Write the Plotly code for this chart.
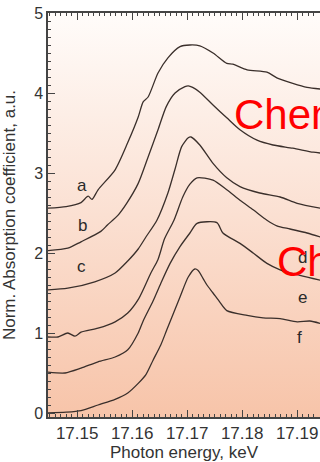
import plotly.graph_objects as go

# ---- data ----
E_A = [17.1447, 17.1480, 17.1507, 17.1520, 17.1527, 17.1538, 17.1569, 17.1592, 17.1611, 17.1620,
       17.1629, 17.1647, 17.1665, 17.1687, 17.1705, 17.1723, 17.1747, 17.1772, 17.1783, 17.1809,
       17.1845, 17.1863, 17.1892, 17.1918, 17.1942]
Y_A = [2.56, 2.58, 2.63, 2.71, 2.67, 2.79, 3.04, 3.38, 3.70, 3.89,
       3.95, 4.25, 4.44, 4.58, 4.60, 4.59, 4.50, 4.37, 4.36, 4.29,
       4.26, 4.19, 4.12, 4.07, 4.05]

E_B = [17.1447, 17.1483, 17.1507, 17.1543, 17.1555, 17.1574, 17.1590, 17.1611, 17.1629, 17.1647,
       17.1662, 17.1678, 17.1696, 17.1702, 17.1710, 17.1723, 17.1747, 17.1772, 17.1796, 17.1827,
       17.1856, 17.1892, 17.1929, 17.1942]
Y_B = [2.03, 2.06, 2.14, 2.27, 2.35, 2.47, 2.62, 2.87, 3.20, 3.54,
       3.83, 4.00, 4.08, 4.09, 4.07, 4.01, 3.85, 3.69, 3.54, 3.41,
       3.35, 3.31, 3.26, 3.25]

E_C = [17.1447, 17.1483, 17.1532, 17.1569, 17.1592, 17.1611, 17.1625, 17.1645, 17.1665, 17.1678,
       17.1690, 17.1702, 17.1707, 17.1723, 17.1747, 17.1772, 17.1796, 17.1832, 17.1869, 17.1900,
       17.1942]
Y_C = [1.54, 1.56, 1.64, 1.75, 1.90, 2.05, 2.20, 2.41, 2.75, 3.05,
       3.33, 3.44, 3.45, 3.35, 3.12, 2.94, 2.83, 2.75, 2.70, 2.62,
       2.56]

E_D = [17.1447, 17.1465, 17.1483, 17.1496, 17.1507, 17.1538, 17.1569, 17.1592, 17.1612, 17.1634,
       17.1647, 17.1659, 17.1676, 17.1692, 17.1705, 17.1718, 17.1747, 17.1772, 17.1796, 17.1820,
       17.1845, 17.1863, 17.1887, 17.1918, 17.1942]
Y_D = [0.95, 0.95, 1.00, 0.96, 1.01, 1.06, 1.14, 1.25, 1.43, 1.75,
       1.92, 2.18, 2.41, 2.70, 2.86, 2.94, 2.91, 2.79, 2.66, 2.54,
       2.41, 2.34, 2.30, 2.25, 2.20]

E_E = [17.1447, 17.1478, 17.1507, 17.1538, 17.1569, 17.1592, 17.1611, 17.1620, 17.1638, 17.1652,
       17.1669, 17.1687, 17.1705, 17.1718, 17.1754, 17.1765, 17.1796, 17.1820, 17.1845, 17.1869,
       17.1905, 17.1942]
Y_E = [0.51, 0.50, 0.56, 0.64, 0.70, 0.79, 1.00, 1.15, 1.40, 1.62,
       1.87, 2.08, 2.25, 2.37, 2.38, 2.25, 2.12, 2.00, 1.87, 1.79,
       1.72, 1.66]

E_F = [17.1447, 17.1480, 17.1507, 17.1538, 17.1569, 17.1592, 17.1611, 17.1625, 17.1638, 17.1652,
       17.1663, 17.1687, 17.1702, 17.1714, 17.1720, 17.1729, 17.1736, 17.1747, 17.1760, 17.1772,
       17.1809, 17.1838, 17.1869, 17.1900, 17.1923, 17.1942]
Y_F = [0.00, 0.01, 0.03, 0.10, 0.17, 0.25, 0.37, 0.48, 0.66, 0.85,
       1.04, 1.45, 1.70, 1.80, 1.78, 1.68, 1.60, 1.50, 1.38, 1.28,
       1.22, 1.19, 1.18, 1.14, 1.15, 1.12]

SERIES = [(E_A, Y_A), (E_B, Y_B), (E_C, Y_C), (E_D, Y_D), (E_E, Y_E), (E_F, Y_F)]

LABELS = ["a", "b", "c", "d", "e", "f"]
LABEL_X = [17.1508, 17.1509, 17.1508, 17.1909, 17.1909, 17.1905]
LABEL_Y = [2.85, 2.35, 1.83, 1.94, 1.44, 0.94]

RED_TEXT = ["Chem", "Ch"]
RED_X = [17.1782, 17.1860]
RED_Y = [3.73, 1.89]

X_RANGE = [17.1447, 17.19415]
Y_RANGE = [-0.05, 5.0]

X_TITLE = "Photon energy, keV"
Y_TITLE = "Norm. Absorption coefficient, a.u."

FONT = "Liberation Sans, Arial, sans-serif"
INK = "#333333"
AX = "#444444"

fig = go.Figure()

# background gradient over the plot area
fig.add_trace(go.Scatter(
    x=[X_RANGE[0], X_RANGE[1], X_RANGE[1], X_RANGE[0], X_RANGE[0]],
    y=[Y_RANGE[0], Y_RANGE[0], Y_RANGE[1], Y_RANGE[1], Y_RANGE[0]],
    mode="none", fill="toself",
    fillgradient=dict(type="vertical",
                      colorscale=[[0, "#f7c4a9"], [0.5, "#fbe0d2"], [1, "#fffcfa"]]),
    hoverinfo="skip", showlegend=False,
))

for ex, ey in SERIES:
    fig.add_trace(go.Scatter(x=ex, y=ey, mode="lines",
                             line=dict(color="#3a2f2b", width=1.3, shape="spline", smoothing=0.7),
                             showlegend=False, hoverinfo="skip"))

# invisible trace to carry the mirrored top axis
fig.add_trace(go.Scatter(x=X_RANGE, y=Y_RANGE, xaxis="x2", mode="none",
                         showlegend=False, hoverinfo="skip"))

for t, lx, ly in zip(LABELS, LABEL_X, LABEL_Y):
    fig.add_annotation(x=lx, y=ly, text=t, showarrow=False,
                       font=dict(family=FONT, size=17, color="#2a2a2a"))

for t, rx, ry in zip(RED_TEXT, RED_X, RED_Y):
    fig.add_annotation(x=rx, y=ry, text=t, showarrow=False, xanchor="left",
                       font=dict(family=FONT, size=42, color="#ff0000"))

fig.update_layout(
    width=320, height=462,
    margin=dict(l=48, r=0, t=13, b=45),
    paper_bgcolor="white", plot_bgcolor="white",
    font=dict(family=FONT, color=INK),
    showlegend=False,
    xaxis2=dict(overlaying="x", side="top", matches="x", range=X_RANGE,
                tick0=17.15, dtick=0.01, showticklabels=False,
                ticks="inside", ticklen=7, tickwidth=1.2, tickcolor=AX,
                minor=dict(dtick=0.001, ticks="inside", ticklen=3, tickwidth=1, tickcolor=AX),
                showline=True, linecolor=AX, linewidth=1.5,
                showgrid=False, zeroline=False),
)

fig.update_xaxes(
    range=X_RANGE, tick0=17.15, dtick=0.01, tickformat=".2f",
    ticks="inside", ticklen=7, tickwidth=1.2, tickcolor=AX,
    minor=dict(dtick=0.001, ticks="inside", ticklen=3, tickwidth=1, tickcolor=AX),
    showline=True, linecolor=AX, linewidth=1.5,
    showgrid=False, zeroline=False,
    tickfont=dict(size=17, color=INK, family=FONT),
    title=dict(text=X_TITLE, font=dict(size=17, color=INK, family=FONT), standoff=2),
    selector=dict(anchor="y") if False else None,
)
fig.layout.xaxis2.showticklabels = False
fig.layout.xaxis2.title = None

fig.update_yaxes(
    range=Y_RANGE, tick0=0, dtick=1,
    ticks="inside", ticklen=7, tickwidth=1.2, tickcolor=AX,
    minor=dict(dtick=0.1, ticks="inside", ticklen=3, tickwidth=1, tickcolor=AX),
    showline=True, linecolor=AX, linewidth=1.5, mirror=False,
    showgrid=False, zeroline=False,
    tickfont=dict(size=16, color=INK, family=FONT),
    title=dict(text=Y_TITLE, font=dict(size=17, color=INK, family=FONT)),
)

fig.write_html("out.html")
